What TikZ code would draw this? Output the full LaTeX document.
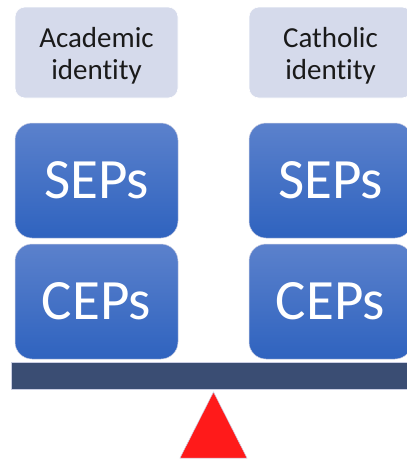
\documentclass[tikz,border=0pt]{standalone}
\usepackage{fontspec}
\setmainfont[RawFeature=-liga]{Carlito}
\begin{document}
\definecolor{idfill}{HTML}{D5DAEB}
\definecolor{idtext}{HTML}{1A1A1A}
\definecolor{bluetop}{HTML}{5B81CC}
\definecolor{bluebot}{HTML}{2F63BF}
\definecolor{beam}{HTML}{3A4D73}
\definecolor{edge}{HTML}{CACEE3}
\definecolor{fulcrum}{HTML}{FF1A1A}
\begin{tikzpicture}[x=1pt,y=-1pt,
  idbox/.style={fill=idfill, draw=white, line width=0.6pt, rounded corners=10pt,
    minimum width=163pt, minimum height=91pt, inner sep=0pt},
  idlabel/.style={align=center, inner sep=0pt, text=idtext,
    font=\fontsize{29}{32}\selectfont},
  epbox/.style={top color=bluetop, bottom color=bluebot, draw=edge, line width=0.5pt,
    rounded corners=17pt, minimum width=163pt, minimum height=115pt, inner sep=0pt,
    text=white, font=\fontsize{57}{60}\selectfont}]
  \useasboundingbox (0,0) rectangle (407,459);
  \clip (0,0) rectangle (407,459);
  % identity labels
  \node[idbox] (acad) at (96.5,52.5) {};
  \node[idlabel] (acadtxt) at ([yshift=-3pt]acad.center) {Academic\\identity};
  \node[idbox] (cath) at (330.5,52.5) {};
  \node[idlabel] (cathtxt) at ([yshift=-3pt]cath.center) {Catholic\\identity};
  % stacked blocks on each side of the beam
  \node[epbox] (sepl) at (96.5,180.5) {SEPs};
  \node[epbox] (sepr) at (330.5,180.5) {SEPs};
  \node[epbox] (cepl) at (96.5,301.5) {CEPs};
  \node[epbox] (cepr) at (330.5,301.5) {CEPs};
  % beam of the balance
  \node[fill=beam, draw=edge, line width=0.6pt, minimum width=410pt, minimum height=27pt,
    inner sep=0pt, anchor=west] (beam) at (11,375.5) {};
  % fulcrum
  \coordinate (apex) at (213.5,392);
  \coordinate (bl) at (180,458);
  \coordinate (br) at (247,458);
  \filldraw[fill=fulcrum, draw=edge, line width=0.5pt] (apex) -- (br) -- (bl) -- cycle;
\end{tikzpicture}
\end{document}
